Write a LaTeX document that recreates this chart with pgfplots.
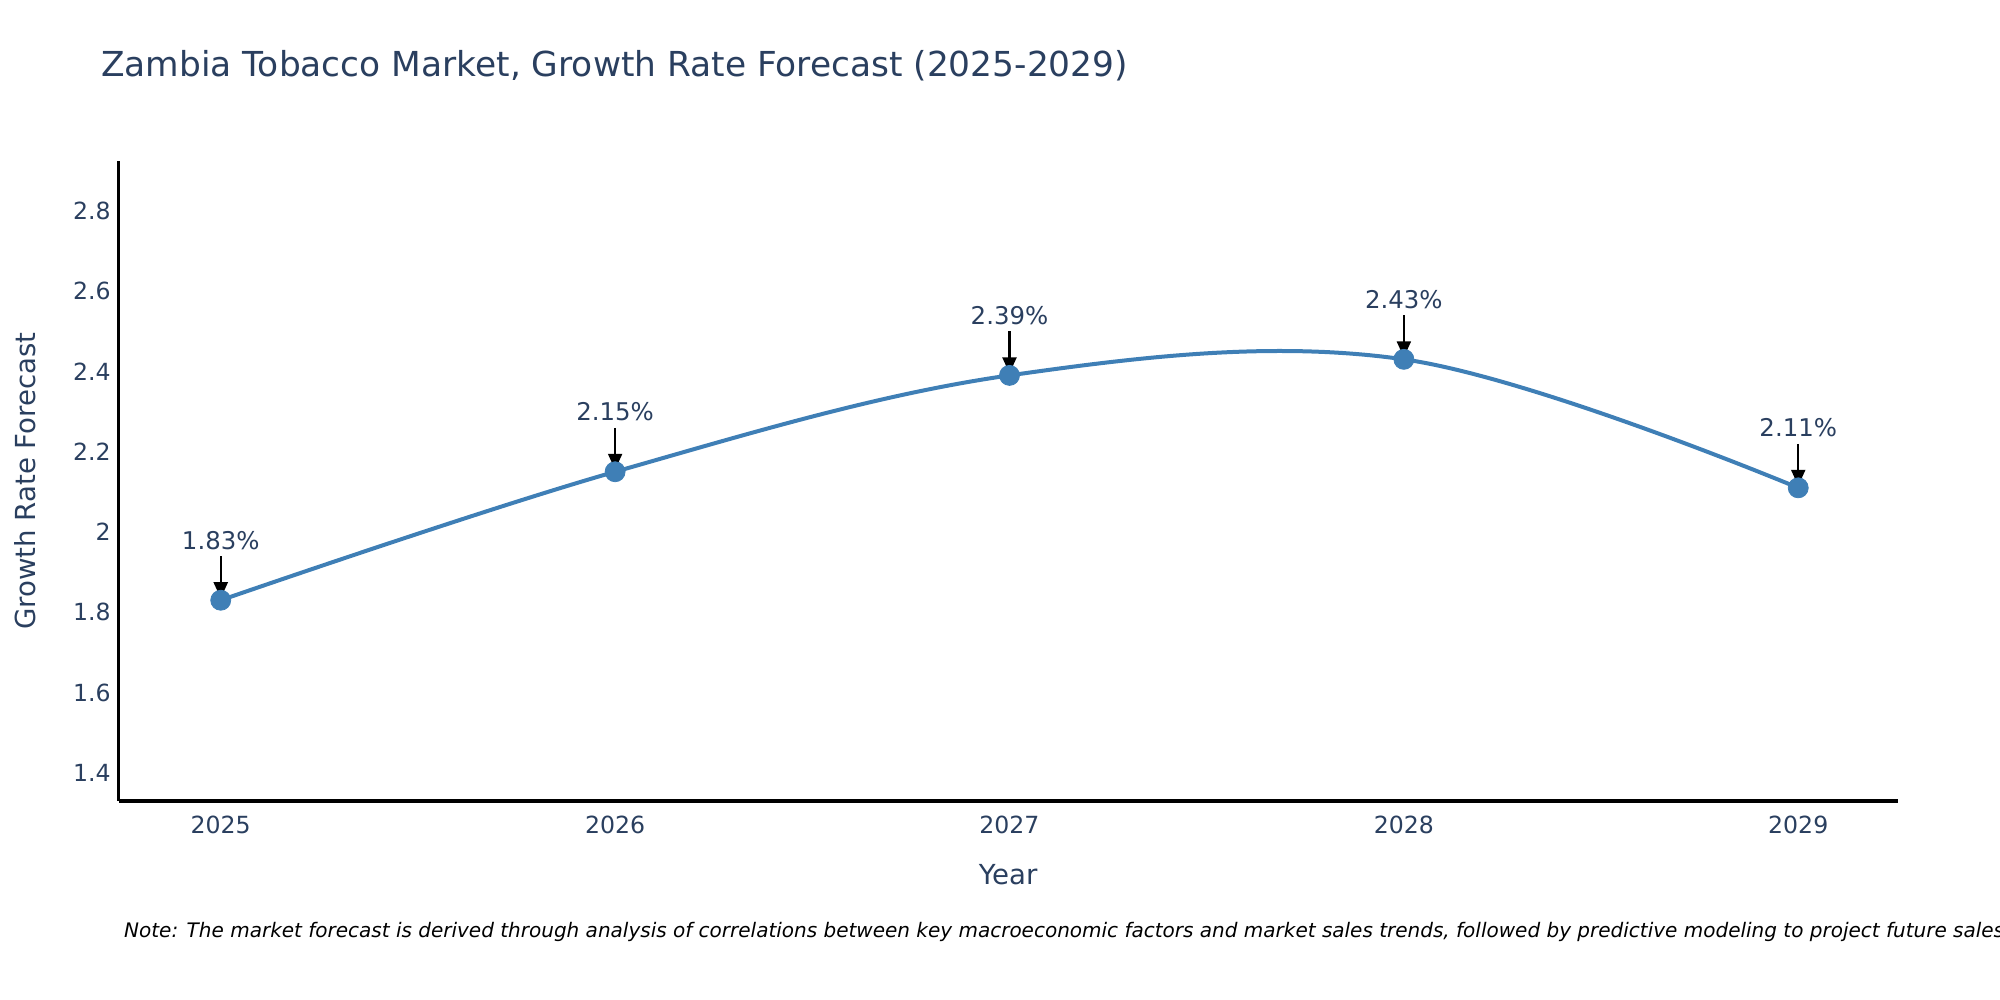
\documentclass[border=0pt]{standalone}
\usepackage{pgfplots}
\pgfplotsset{compat=1.18}
\usepackage{pgfplotstable}
\usepackage{fontspec}
\setmainfont{DejaVu Sans}
\usetikzlibrary{arrows.meta}

\definecolor{plotlytext}{HTML}{2A3F5F}
\definecolor{lineblue}{RGB}{63,127,182}

\pgfplotstableread{
year rate
2025 1.83
2026 2.15
2027 2.39
2028 2.43
2029 2.11
}\growth

\begin{document}
\begin{tikzpicture}
\path[use as bounding box] (0,0) rectangle (1000pt,500pt);
\begin{axis}[
    at={(59.3pt,99.5pt)}, anchor=south west,
    scale only axis, width=889.5pt, height=320pt,
    xmin=2024.741, xmax=2029.252,
    ymin=1.330, ymax=2.924,
    axis lines*=left,
    axis line style={black, line width=1.7pt},
    major tick length=0pt,
    xtick={2025,2026,2027,2028,2029},
    ytick={1.4,1.6,1.8,2,2.2,2.4,2.6,2.8},
    /pgf/number format/1000 sep={},
    /pgf/number format/assume math mode=true,
    tick label style={font=\fontsize{11.8}{14}\selectfont, text=plotlytext},
    xticklabel style={yshift=-4pt},
    yticklabel style={xshift=-0.5pt},
    xlabel={Year},
    ylabel={Growth Rate Forecast},
    label style={font=\fontsize{13.8}{16}\selectfont, text=plotlytext},
    xlabel style={at={(axis description cs:0.5,-0.1156)}, anchor=center},
    ylabel style={at={(axis description cs:-0.0523,0.5)}, anchor=center, rotate=0},
  ]
  % spline
  \addplot[lineblue, line width=2pt, smooth, tension=0.6, no markers]
    table[x=year, y=rate]{\growth};
  % markers and value labels
  \addplot[only marks, mark=*, mark size=5pt, mark options={fill=lineblue, draw=lineblue},
    point meta=explicit,
    nodes near coords={\pgfmathprintnumber[fixed,precision=2,fixed zerofill]{\pgfplotspointmeta}\%},
    every node near coord/.append style={anchor=center, yshift=30pt,
        font=\fontsize{12.2}{14}\selectfont, text=plotlytext}]
    table[x=year, y=rate, meta=rate]{\growth};
  % annotation arrows
  \addplot[black, line width=1.1pt, -{Triangle[width=7pt,length=8pt]},
    quiver={u=0, v=-0.1046}]
    table[x=year, y expr=\thisrow{rate}+0.1096]{\growth};
\end{axis}
\node[anchor=west, inner sep=0pt, font=\fontsize{17.2}{21}\selectfont, text=plotlytext]
  at (50.4pt,467pt) {Zambia Tobacco Market, Growth Rate Forecast (2025-2029)};
\node[anchor=west, inner sep=0pt, font=\itshape\fontsize{10}{12}\selectfont, text=black]
  at (61.9pt,34pt) {Note: The market forecast is derived through analysis of correlations between key macroeconomic factors and market sales trends, followed by predictive modeling to project future sales.};
\end{tikzpicture}
\end{document}
